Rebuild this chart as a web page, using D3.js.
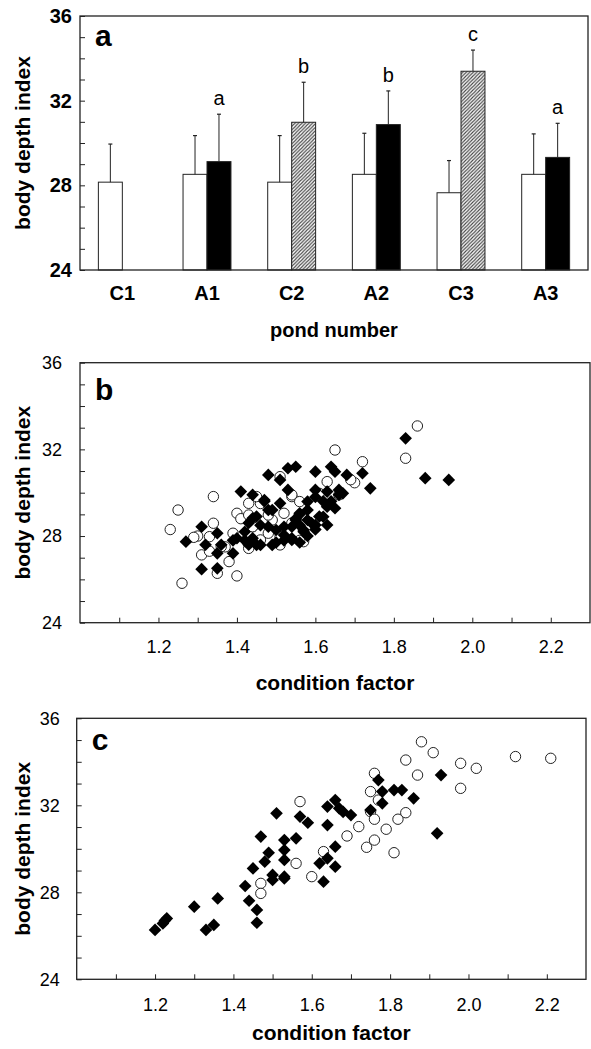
<!DOCTYPE html>
<html>
<head>
<meta charset="utf-8">
<script src="https://cdn.jsdelivr.net/npm/d3@7"></script>
<style>
  body { margin: 0; background: #fff; }
  svg { display: block; font-family: "Liberation Sans", Arial, sans-serif; }
</style>
</head>
<body>
<div id="chart"></div>
<script>
// ---- panel a: bar data ----
const ponds = ["C1", "A1", "C2", "A2", "C3", "A3"];
const controlMeans = [28.15, 28.52, 28.15, 28.52, 27.65, 28.52];
const controlErr = [1.8, 1.83, 2.2, 1.94, 1.52, 1.91];
const treatMeans = [null, 29.12, 30.98, 30.87, 33.39, 29.32];
const treatErr = [null, 2.24, 1.89, 1.59, 1.0, 1.61];
const treatKind = [null, "solid", "hatch", "solid", "hatch", "solid"];
const sigLetters = [null, "a", "b", "b", "c", "a"];

// ---- panel b: scatter (condition factor, body depth index) ----
const bDiamonds = [
  [1.48, 30.82], [1.53, 31.13], [1.55, 31.2], [1.6, 30.97], [1.64, 31.2], [1.65, 30.97], [1.68, 30.82], [1.72, 30.9], [1.74, 30.2],
  [1.51, 30.59], [1.53, 30.13], [1.6, 30.13], [1.63, 30.05], [1.66, 30.13], [1.67, 29.97], [1.44, 29.9], [1.47, 29.66], [1.51, 29.51],
  [1.48, 29.2], [1.58, 29.59], [1.63, 29.35], [1.65, 29.28], [1.62, 28.89], [1.63, 28.51], [1.6, 28.51], [1.56, 29.05], [1.55, 28.74],
  [1.54, 28.43], [1.52, 28.43], [1.5, 28.28], [1.48, 28.43], [1.52, 28.05], [1.54, 27.9], [1.46, 27.59], [1.45, 27.59], [1.49, 27.59],
  [1.57, 28.28], [1.58, 28.74], [1.58, 29.2], [1.44, 28.82],
  [1.27, 27.74], [1.31, 28.43], [1.31, 26.47], [1.32, 27.6], [1.35, 26.51], [1.35, 28.13], [1.36, 27.6], [1.35, 27.2], [1.39, 27.2],
  [1.39, 27.8], [1.41, 30.05], [1.42, 27.8], [1.44, 27.9], [1.4, 27.9], [1.43, 28.6], [1.46, 28.5], [1.42, 28.2], [1.43, 27.6],
  [1.47, 29.6], [1.45, 28.9], [1.49, 29.2],
  [1.83, 32.51], [1.88, 30.67], [1.94, 30.59], [1.6, 29.8], [1.62, 29.6], [1.59, 28.6], [1.56, 29.0], [1.55, 28.8], [1.54, 27.82],
  [1.57, 28.2], [1.56, 28.5], [1.58, 28.0], [1.6, 28.3], [1.61, 28.9], [1.56, 27.7], [1.5, 27.7], [1.52, 27.8], [1.66, 29.9], [1.64, 29.6]
];
const bCircles = [
  [1.23, 28.3], [1.25, 29.2], [1.26, 25.82], [1.34, 29.82], [1.3, 28.0], [1.31, 27.13], [1.34, 28.59], [1.35, 26.28], [1.33, 27.3],
  [1.37, 27.5], [1.38, 26.82], [1.4, 26.16], [1.4, 29.05], [1.41, 28.8], [1.39, 28.13], [1.43, 28.97], [1.43, 29.51], [1.43, 27.43],
  [1.46, 29.5], [1.44, 28.43], [1.46, 27.82], [1.51, 27.97], [1.51, 27.59], [1.49, 28.74], [1.52, 29.05], [1.51, 30.74], [1.54, 29.82],
  [1.54, 28.6], [1.86, 33.08], [1.83, 31.59], [1.65, 31.97], [1.72, 31.43], [1.7, 30.46], [1.69, 30.6], [1.63, 30.51], [1.56, 29.59],
  [1.54, 29.9], [1.57, 27.74], [1.56, 27.8], [1.66, 29.9], [1.48, 28.97], [1.45, 29.82], [1.48, 28.13], [1.29, 27.94], [1.36, 27.51],
  [1.33, 27.97], [1.44, 28.43], [1.61, 29.97]
];

// ---- panel c: scatter ----
const cDiamonds = [
  [1.2, 26.27], [1.22, 26.57], [1.23, 26.8], [1.225, 26.7], [1.3, 27.34], [1.33, 26.27], [1.35, 26.5], [1.36, 27.72], [1.43, 28.29],
  [1.44, 27.61], [1.46, 27.19], [1.46, 26.6], [1.45, 29.1], [1.47, 30.56], [1.49, 29.82], [1.48, 29.41], [1.5, 28.8], [1.5, 28.57],
  [1.51, 31.63], [1.53, 30.4], [1.53, 29.94], [1.53, 29.49], [1.56, 30.48], [1.53, 28.72], [1.53, 28.64], [1.57, 31.48], [1.59, 31.2],
  [1.63, 28.49], [1.62, 29.33], [1.64, 29.56], [1.66, 29.18], [1.66, 30.1], [1.64, 31.09], [1.64, 31.94], [1.66, 32.24], [1.67, 31.86],
  [1.7, 31.55], [1.75, 31.78], [1.78, 32.09], [1.78, 32.63], [1.81, 32.7], [1.83, 32.7], [1.77, 33.16], [1.86, 32.32], [1.93, 33.39],
  [1.92, 30.71], [1.68, 31.7]
];
const cCircles = [
  [1.57, 32.17], [1.47, 28.41], [1.47, 27.95], [1.56, 29.33], [1.6, 28.72], [1.88, 34.92], [1.91, 34.42], [1.84, 34.08], [1.87, 33.39],
  [1.76, 33.47], [1.75, 32.63], [1.77, 32.24], [1.75, 31.71], [1.84, 31.66], [1.82, 31.36], [1.76, 31.36], [1.79, 30.9], [1.72, 31.02],
  [1.69, 30.59], [1.76, 30.4], [1.74, 30.07], [1.81, 29.82], [1.63, 29.87], [1.98, 33.93], [2.02, 33.7], [1.98, 32.78], [2.12, 34.24],
  [2.21, 34.16]
];

const yTicks = d3.range(24, 37);
const xTicks = d3.range(11, 23).map((d) => d / 10);

const width = 591;
const height = 1049;

const svg = d3
  .select("#chart")
  .append("svg")
  .attr("width", width)
  .attr("height", height);

// hatch fill for the C-pond treatment bars
const defs = svg.append("defs");
const pat = defs
  .append("pattern")
  .attr("id", "hatch")
  .attr("patternUnits", "userSpaceOnUse")
  .attr("width", 3.5)
  .attr("height", 3.5);
pat.append("rect").attr("width", 3.5).attr("height", 3.5).attr("fill", "#fff");
pat
  .append("path")
  .attr("d", "M-1,1 l2,-2 M0,3.5 l3.5,-3.5 M2.5,4.5 l2,-2")
  .attr("stroke", "#444")
  .attr("stroke-width", 1.1);

function styleAxis(g, size, weight) {
  g.select(".domain").remove();
  g.selectAll(".tick line").attr("stroke", "#222");
  g.selectAll(".tick text")
    .attr("fill", "#000")
    .style("font-size", size + "px")
    .style("font-weight", weight);
}

function yAxis(y, left, pad, size, weight) {
  const g = svg
    .append("g")
    .attr("transform", `translate(${left},0)`)
    .call(
      d3
        .axisLeft(y)
        .tickValues(yTicks)
        .tickSizeInner(-5)
        .tickSizeOuter(0)
        .tickPadding(pad)
        .tickFormat((d) => (d % 4 === 0 ? d : ""))
    );
  styleAxis(g, size, weight);
}

function frame(left, top, right, bottom) {
  svg
    .append("rect")
    .attr("x", left)
    .attr("y", top)
    .attr("width", right - left)
    .attr("height", bottom - top)
    .attr("fill", "none")
    .attr("stroke", "#222")
    .attr("stroke-width", 1.3);
}

function yTitle(cx, cy) {
  svg
    .append("text")
    .attr("transform", `translate(${cx},${cy}) rotate(-90)`)
    .attr("text-anchor", "middle")
    .attr("dy", "0.35em")
    .style("font-size", "21px")
    .style("font-weight", "bold")
    .text("body depth index");
}

function panelLetter(x, y, t) {
  svg
    .append("text")
    .attr("x", x)
    .attr("y", y)
    .style("font-size", "30px")
    .style("font-weight", "bold")
    .text(t);
}

// ================= panel a =================
{
  const L = 80, R = 588, T = 16, B = 270;
  const y = d3.scaleLinear().domain([24, 36]).range([B, T]);
  const x0 = d3.scaleBand().domain(ponds).range([L, R]).paddingInner(0.434).paddingOuter(0.217);
  const x1 = d3.scaleBand().domain(["ctrl", "treat"]).range([0, x0.bandwidth()]);

  const rows = ponds.map((p, i) => ({
    pond: p,
    cm: controlMeans[i],
    ce: controlErr[i],
    tm: treatMeans[i],
    te: treatErr[i],
    kind: treatKind[i],
    sig: sigLetters[i],
  }));

  const groups = svg
    .selectAll(".grp")
    .data(rows)
    .enter()
    .append("g")
    .attr("transform", (d) => `translate(${x0(d.pond)},0)`);

  // error bars (upward only)
  function errBar(sel, key, mean, err) {
    const cx = x1(key) + x1.bandwidth() / 2;
    sel.append("line")
      .attr("x1", cx).attr("x2", cx)
      .attr("y1", (d) => y(d[mean]))
      .attr("y2", (d) => y(d[mean] + d[err]))
      .attr("stroke", "#222").attr("stroke-width", 1);
    sel.append("line")
      .attr("x1", cx - 2).attr("x2", cx + 2)
      .attr("y1", (d) => y(d[mean] + d[err]))
      .attr("y2", (d) => y(d[mean] + d[err]))
      .attr("stroke", "#222").attr("stroke-width", 1.2);
  }

  groups
    .append("rect")
    .attr("x", x1("ctrl"))
    .attr("width", x1.bandwidth())
    .attr("y", (d) => y(d.cm))
    .attr("height", (d) => y(24) - y(d.cm))
    .attr("fill", "#fff")
    .attr("stroke", "#222")
    .attr("stroke-width", 1);
  errBar(groups, "ctrl", "cm", "ce");

  const tg = groups.filter((d) => d.tm !== null);
  tg.append("rect")
    .attr("x", x1("treat"))
    .attr("width", x1.bandwidth())
    .attr("y", (d) => y(d.tm))
    .attr("height", (d) => y(24) - y(d.tm))
    .attr("fill", (d) => (d.kind === "hatch" ? "url(#hatch)" : "#000"))
    .attr("stroke", "#222")
    .attr("stroke-width", 1);
  errBar(tg, "treat", "tm", "te");

  tg.append("text")
    .attr("x", x1("treat") + x1.bandwidth() / 2)
    .attr("y", (d) => y(d.tm + d.te) - 9)
    .attr("text-anchor", "middle")
    .style("font-size", "20px")
    .text((d) => d.sig);

  frame(L, T, R, B);
  yAxis(y, L, 8, 20, "bold");

  svg
    .selectAll(".pondlab")
    .data(ponds)
    .enter()
    .append("text")
    .attr("x", (d) => x0(d) + x0.bandwidth() / 2)
    .attr("y", 300)
    .attr("text-anchor", "middle")
    .style("font-size", "20px")
    .style("font-weight", "bold")
    .text((d) => d);

  svg
    .append("text")
    .attr("x", (L + R) / 2)
    .attr("y", 337)
    .attr("text-anchor", "middle")
    .style("font-size", "20px")
    .style("font-weight", "bold")
    .text("pond number");

  yTitle(23, (T + B) / 2);
  panelLetter(95, 46, "a");
}

// ================= scatter panels =================
function scatterPanel(L, R, T, B, circles, diamonds, letter, letterY, tickLabelY, titleY, yPad) {
  const x = d3.scaleLinear().domain([1.0, 2.3]).range([L, R]);
  const y = d3.scaleLinear().domain([24, 36]).range([B, T]);

  const pts = svg.append("g");
  pts
    .selectAll("circle")
    .data(circles)
    .enter()
    .append("circle")
    .attr("cx", (d) => x(d[0]))
    .attr("cy", (d) => y(d[1]))
    .attr("r", 5.2)
    .attr("fill", "#fff")
    .attr("stroke", "#222")
    .attr("stroke-width", 1);

  const diamond = d3.symbol().type(d3.symbolSquare).size(80);
  pts
    .selectAll(".dia")
    .data(diamonds)
    .enter()
    .append("path")
    .attr("class", "dia")
    .attr("d", diamond)
    .attr("transform", (d) => `translate(${x(d[0])},${y(d[1])}) rotate(45)`)
    .attr("fill", "#000");

  frame(L, T, R, B);
  yAxis(y, L, yPad, 18, "normal");

  const gx = svg
    .append("g")
    .attr("transform", `translate(0,${B})`)
    .call(
      d3
        .axisBottom(x)
        .tickValues(xTicks)
        .tickSizeInner(-5)
        .tickSizeOuter(0)
        .tickPadding(tickLabelY - B - 13)
        .tickFormat((d) => (Math.round(d * 10) % 2 === 0 ? d.toFixed(1) : ""))
    );
  styleAxis(gx, 18, "normal");

  svg
    .append("text")
    .attr("x", (L + R) / 2)
    .attr("y", titleY)
    .attr("text-anchor", "middle")
    .style("font-size", "21px")
    .style("font-weight", "bold")
    .text("condition factor");

  yTitle(23, (T + B) / 2);
  panelLetter(L + 15, letterY, letter);
}

scatterPanel(80, 590, 362.7, 622.7, bCircles, bDiamonds, "b", 400, 653, 690, 18);
scatterPanel(76.7, 586, 718.3, 979.3, cCircles, cDiamonds, "c", 750, 1011, 1040, 17);
</script>
</body>
</html>
